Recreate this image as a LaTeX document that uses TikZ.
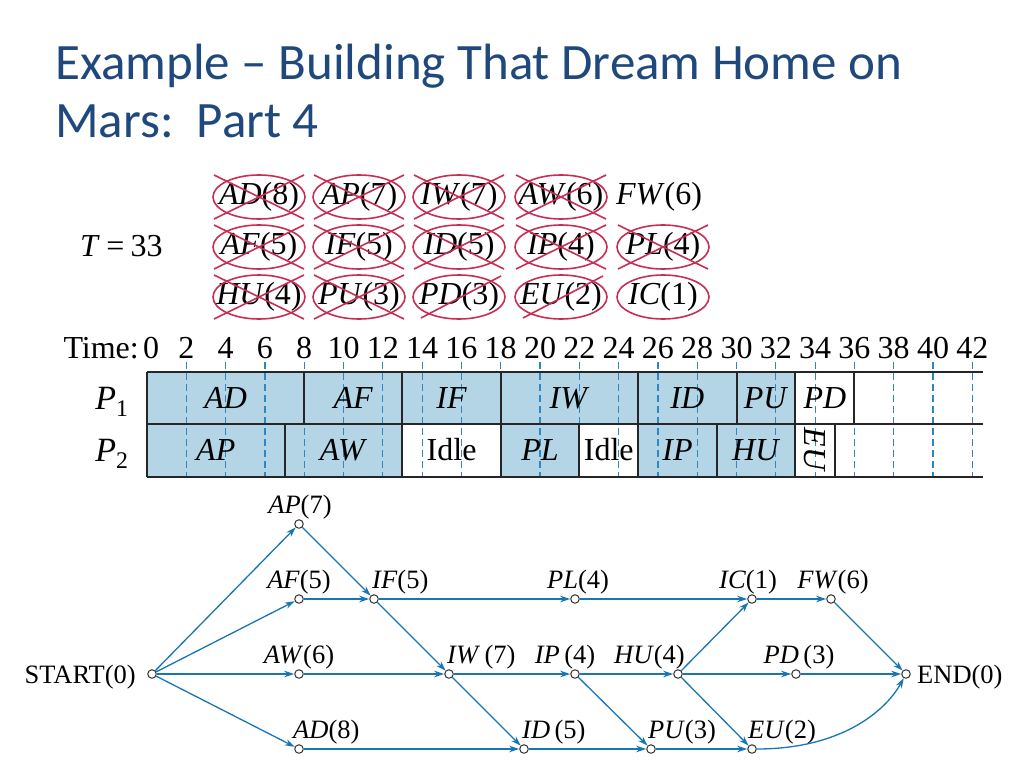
\documentclass[tikz,border=0pt]{standalone}
\usepackage{fontspec}
\setmainfont{Liberation Serif}
\newfontfamily\titlefont{Carlito}
\usetikzlibrary{arrows.meta}
\definecolor{titleblue}{RGB}{31,73,125}
\definecolor{cellblue}{RGB}{180,213,230}
\definecolor{dashblue}{RGB}{45,135,195}
\definecolor{arrowblue}{RGB}{25,118,180}
\definecolor{crossred}{RGB}{200,45,85}
\begin{document}
\begin{tikzpicture}[x=1bp,y=-1bp,
  titletext/.style={font=\titlefont\fontsize{51bp}{57bp}\selectfont, text=titleblue, inner sep=0pt, anchor=base west},
  item/.style={font=\fontsize{32bp}{36bp}\selectfont, inner sep=0pt},
  crossell/.style={draw=crossred, line width=1.6bp},
  crossln/.style={draw=crossred, line width=1.6bp},
  celltext/.style={font=\fontsize{32bp}{36bp}\selectfont, inner sep=0pt, anchor=base},
  plabel/.style={font=\fontsize{34bp}{38bp}\selectfont, inner sep=0pt, anchor=base},
  timelbl/.style={font=\fontsize{32bp}{36bp}\selectfont, inner sep=0pt, anchor=base},
  dashln/.style={draw=dashblue, line width=1.2bp, dash pattern=on 7bp off 4bp},
  gridln/.style={draw=black!85, line width=2bp},
  vtx/.style={circle, draw=black!80, fill=white, line width=1bp, minimum size=8.5bp, inner sep=0pt},
  lbl/.style={font=\fontsize{26.5bp}{30bp}\selectfont, inner sep=0pt, anchor=base},
  edge/.style={draw=arrowblue, line width=1.3bp, -{Stealth[length=10bp,width=6.5bp]}}
]
\useasboundingbox (0,0) rectangle (1024,768);
\fill[white] (0,0) rectangle (1024,768);

% title
\node[titletext] (t1) at (55,80) {Example – Building That Dream Home on};
\node[titletext] (t2) at (55,137) {Mars:~~Part 4};

% T = 33 and priority list
\node[item, anchor=base west] (T) at (80,256) {\textit{T}\hspace{0.2em}=\hspace{0.2em}33};
\node[item] (i1) at (259,197) {\textit{AD}(8)};
\node[item] (i2) at (359,197) {\textit{AP}(7)};
\node[item] (i3) at (459,197) {\textit{IW}(7)};
\node[item] (i4) at (561,197) {\textit{AW}(6)};
\node[item] (i5) at (659,197) {\textit{FW}(6)};
\node[item] (i6) at (259,247) {\textit{AF}(5)};
\node[item] (i7) at (359,247) {\textit{IF}(5)};
\node[item] (i8) at (459,247) {\textit{ID}(5)};
\node[item] (i9) at (561,247) {\textit{IP}(4)};
\node[item] (i10) at (663,247) {\textit{PL}(4)};
\node[item] (i11) at (259,297) {\textit{HU}(4)};
\node[item] (i12) at (359,297) {\textit{PU}(3)};
\node[item] (i13) at (459,297) {\textit{PD}(3)};
\node[item] (i14) at (561,297) {\textit{EU}(2)};
\node[item] (i15) at (663,297) {\textit{IC}(1)};
\foreach \n in {i1,i2,i3,i4,i6,i7,i8,i9,i10,i11,i12,i13,i14,i15}
  \draw[crossell] (\n.center) ellipse[x radius=46, y radius=22];
\foreach \n in {i1,i2,i3,i4,i6,i7,i8,i9,i10,i11,i12}{
  \draw[crossln] ([shift={(-45,-22)}]\n.center) -- ([shift={(45,22)}]\n.center);
  \draw[crossln] ([shift={(-45,22)}]\n.center) -- ([shift={(45,-22)}]\n.center);
}
\foreach \n in {i13,i14}
  \draw[crossln] ([shift={(-38,21)}]\n.center) -- ([shift={(42,-21)}]\n.center);

% Gantt chart
\def\tx#1{147+19.65*#1}
\fill[cellblue] (147,372) rectangle ({\tx{33}},424);
\fill[cellblue] (147,424) rectangle ({\tx{13}},477);
\fill[cellblue] ({\tx{18}},424) rectangle ({\tx{22}},477);
\fill[cellblue] ({\tx{25}},424) rectangle ({\tx{33}},477);
\foreach \t in {2,4,...,42}
  \draw[dashln] ({\tx{\t}},362) -- ({\tx{\t}},477);
\foreach \yy in {372,424,477}
  \draw[gridln] (147,\yy) -- (983,\yy);
\draw[gridln] (147,372) -- (147,477);
\foreach \t in {8,13,18,25,30,33,36}
  \draw[gridln] ({\tx{\t}},372) -- ({\tx{\t}},424);
\foreach \t in {7,13,18,22,25,29,33,35}
  \draw[gridln] ({\tx{\t}},424) -- ({\tx{\t}},477);

\node[timelbl, anchor=base east] (timelab) at (139,358) {Time:};
\node[timelbl] (tk0) at (151,358) {0};
\foreach \t in {2,4,...,42}
  \node[timelbl] (tk\t) at ({\tx{\t}},358) {\t};

\node[plabel] (p1) at (112,409) {\textit{P}\textsubscript{1}};
\node[plabel] (p2) at (112,461) {\textit{P}\textsubscript{2}};

\node[celltext] (cAD) at ({\tx{4}},408) {\textit{AD}};
\node[celltext] (cAF) at ({\tx{10.5}},408) {\textit{AF}};
\node[celltext] (cIF) at ({\tx{15.5}},408) {\textit{IF}};
\node[celltext] (cIW) at ({\tx{21.5}},408) {\textit{IW}};
\node[celltext] (cID) at ({\tx{27.5}},408) {\textit{ID}};
\node[celltext] (cPU) at ({\tx{31.5}},408) {\textit{PU}};
\node[celltext] (cPD) at ({\tx{34.5}},408) {\textit{PD}};
\node[celltext] (cAP) at ({\tx{3.5}},460) {\textit{AP}};
\node[celltext] (cAW) at ({\tx{10}},460) {\textit{AW}};
\node[celltext] (cI1) at ({\tx{15.5}},460) {Idle};
\node[celltext] (cPL) at ({\tx{20}},460) {\textit{PL}};
\node[celltext] (cI2) at ({\tx{23.5}},460) {Idle};
\node[celltext] (cIP) at ({\tx{27}},460) {\textit{IP}};
\node[celltext] (cHU) at ({\tx{31}},460) {\textit{HU}};
\node[celltext, anchor=center, rotate=-90] (cEU) at ({\tx{34}},450) {\textit{EU}};

% precedence graph
\node[vtx] (START) at (152,674) {};
\node[vtx] (AP) at (299,524) {};
\node[vtx] (AF) at (299,599) {};
\node[vtx] (AW) at (299,674) {};
\node[vtx] (AD) at (299,749) {};
\node[vtx] (IF) at (374,599) {};
\node[vtx] (IW) at (449,674) {};
\node[vtx] (PL) at (575,599) {};
\node[vtx] (IC) at (752,599) {};
\node[vtx] (FW) at (831,599) {};
\node[vtx] (IP) at (575,674) {};
\node[vtx] (HU) at (678,674) {};
\node[vtx] (PD) at (796,674) {};
\node[vtx] (END) at (906,674) {};
\node[vtx] (ID) at (524,749) {};
\node[vtx] (PU) at (651,749) {};
\node[vtx] (EU) at (752,749) {};

\node[lbl] (lAP) at (300,513) {\textit{AP}(7)};
\node[lbl] (lAF) at (299,588) {\textit{AF}(5)};
\node[lbl] (lAW) at (299,663) {\textit{AW}(6)};
\node[lbl, anchor=base west] (lAD) at (293,738) {\textit{AD}(8)};
\node[lbl, anchor=base west] (lIF) at (372,588) {\textit{IF}(5)};
\node[lbl, anchor=base west] (lIW) at (447,663) {\textit{IW}\,(7)};
\node[lbl] (lPL) at (578,588) {\textit{PL}(4)};
\node[lbl] (lIC) at (748,588) {\textit{IC}(1)};
\node[lbl] (lFW) at (833,588) {\textit{FW}(6)};
\node[lbl] (lIP) at (565,663) {\textit{IP}\,(4)};
\node[lbl, anchor=base east] (lHU) at (685,663) {\textit{HU}(4)};
\node[lbl] (lPD) at (799,663) {\textit{PD}\,(3)};
\node[lbl, anchor=base west] (lID) at (522,738) {\textit{ID}\,(5)};
\node[lbl, anchor=base west] (lPU) at (648,738) {\textit{PU}(3)};
\node[lbl, anchor=base west] (lEU) at (748,738) {\textit{EU}(2)};
\node[lbl, anchor=base east] (lSTART) at (136,683) {START(0)};
\node[lbl, anchor=base west] (lEND) at (917,683) {END(0)};

\draw[edge] (START) -- (AP);
\draw[edge] (START) -- (AF);
\draw[edge] (START) -- (AW);
\draw[edge] (START) -- (AD);
\draw[edge] (AP) -- (IF);
\draw[edge] (AF) -- (IF);
\draw[edge] (IF) -- (PL);
\draw[edge] (IF) -- (IW);
\draw[edge] (AW) -- (IW);
\draw[edge] (IW) -- (IP);
\draw[edge] (IW) -- (ID);
\draw[edge] (AD) -- (ID);
\draw[edge] (PL) -- (IC);
\draw[edge] (IP) -- (HU);
\draw[edge] (IP) -- (PU);
\draw[edge] (ID) -- (PU);
\draw[edge] (HU) -- (IC);
\draw[edge] (HU) -- (PD);
\draw[edge] (HU) -- (EU);
\draw[edge] (PU) -- (EU);
\draw[edge] (IC) -- (FW);
\draw[edge] (FW) -- (END);
\draw[edge] (PD) -- (END);
\draw[edge] (EU) .. controls (840,749) and (885,712) .. (END);
\end{tikzpicture}
\end{document}
